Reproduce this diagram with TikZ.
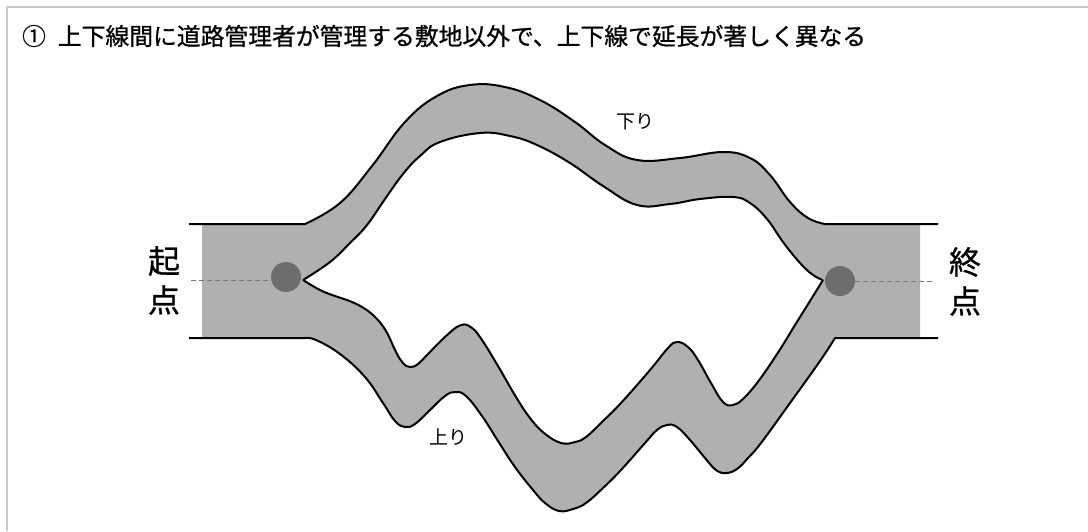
\documentclass[tikz,border=0pt]{standalone}
\usepackage{fontspec}
\setmainfont{Noto Sans CJK JP}
\newfontfamily\jp{Noto Sans CJK JP}
\newfontfamily\jpb[FakeBold=0.8]{Noto Sans CJK JP}
\definecolor{road}{RGB}{176,176,176}
\definecolor{dot}{RGB}{109,109,109}
\definecolor{frame}{RGB}{200,200,200}
\definecolor{dash}{RGB}{120,120,120}
\begin{document}
\begin{tikzpicture}[x=1pt,y=-1pt,
  edge/.style={draw=black,line width=2pt,line join=round},
  dashline/.style={draw=dash,line width=0.9pt,dash pattern=on 5pt off 3pt},
  endpt/.style={circle,fill=dot,minimum size=30pt,inner sep=0pt},
  bigl/.style={font=\jpb\fontsize{32}{34}\selectfont,inner sep=0pt},
  smalll/.style={font=\jp\fontsize{19}{20}\selectfont,inner sep=0pt},
  titlel/.style={font=\jpb\fontsize{23.8}{26}\selectfont,inner sep=0pt},
  sm/.style={smooth,tension=0.7}]
\useasboundingbox (0,0) rectangle (1088,531);
\fill[white] (0,0) rectangle (1088,531);
\draw[frame,line width=2pt] (7,531) -- (7,7) -- (1088,7);

% curves
\def\downouter{(305,224) (340,203) (372,166) (405,122) (437,96) (470,85) (505,87) (540,100) (575,122) (605,145) (637,160) (680,158) (723,152) (750,158) (770,175) (790,202) (808,218) (825,224)}
\def\downinner{(303,280) (330,262) (350,243) (367,225) (385,199) (403,174) (420,156) (440,142) (480,133) (510,136) (537,145) (570,163) (603,186) (637,205) (670,204) (700,199) (733,197) (750,203) (767,219) (783,242) (800,263) (813,275) (823,280)}
\def\upouter{(305,338) (316,340) (340,354) (365,377) (383,403) (395,421) (405,427) (415,424) (430,410) (445,396) (455,392) (466,396) (482,416) (498,441) (515,467) (533,490) (545,503) (559,511) (573,509) (586,503) (603,488) (621,470) (645,443) (657,430) (667,425) (677,427) (690,440) (705,458) (716,470) (726,473) (737,469) (748,458) (761,443) (790,403) (820,361) (835,338)}
\def\upinner{(303,280) (320,290) (335,296) (347,300) (362,307) (375,317) (386,331) (396,352) (403,363) (410,367) (418,364) (428,354) (446,336) (461,325) (472,328) (482,340) (498,366) (516,397) (530,418) (544,433) (561,443) (575,442) (586,437) (603,421) (621,403) (650,370) (668,348) (677,342) (688,347) (698,360) (711,383) (723,402) (733,405) (744,398) (760,379) (779,351) (795,325) (810,301) (823,280)}

% road fill
\fill[road] (202,224) -- plot[sm] coordinates {\downouter} -- (920,224) -- (920,282) -- (202,282) -- cycle;
\fill[road] (202,338) -- plot[sm] coordinates {\upouter} -- (920,338) -- (920,278) -- (202,278) -- cycle;
\fill[white] plot[sm] coordinates {\downinner} -- (823,282) -- (303,282) -- cycle;
\fill[white] plot[sm] coordinates {\upinner} -- (823,278) -- (303,278) -- cycle;

% lines
\draw[edge] (189,224) -- plot[sm] coordinates {\downouter} -- (938,224);
\draw[edge] (189,338) -- plot[sm] coordinates {\upouter} -- (938,338);
\draw[edge] plot[sm] coordinates {\downinner};
\draw[edge] plot[sm] coordinates {\upinner};

% endpoints
\node[endpt] (s) at (286,277) {};
\node[endpt] (e) at (840,281) {};
\coordinate (sl) at (191,280);
\coordinate (er) at (935,281);
\draw[dashline] (sl) -- (s.west |- sl);
\draw[dashline] (e.east |- er) -- (er);

% labels
\node[bigl] (ki) at (164,261) {起};
\node[bigl] (ten1) at (164,300) {点};
\node[bigl] (shu) at (965,262) {終};
\node[bigl] (ten2) at (965,301) {点};
\node[smalll] (kudari) at (635,122) {下り};
\node[smalll] (nobori) at (448,437) {上り};
\node[titlel] (num) at (34,36) {①};
\node[titlel] (title) at (462,36) {上下線間に道路管理者が管理する敷地以外で、上下線で延長が著しく異なる};
\end{tikzpicture}
\end{document}
